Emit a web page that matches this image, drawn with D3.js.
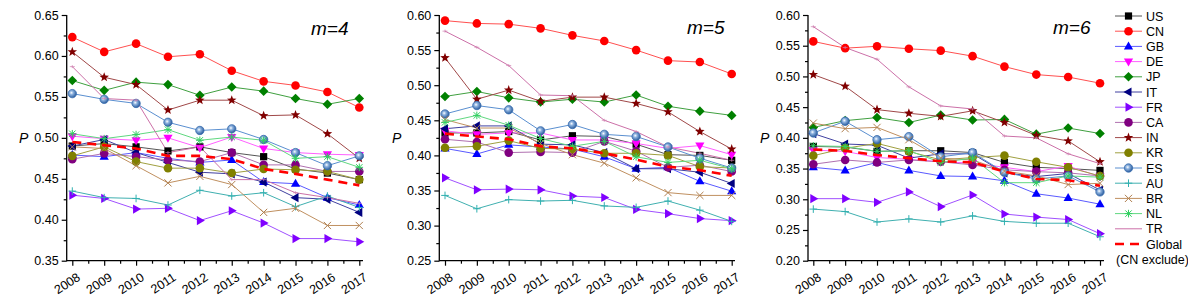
<!DOCTYPE html>
<html>
<head>
<meta charset="utf-8">
<script src="https://cdn.jsdelivr.net/npm/d3@7"></script>
<style>
  body { margin: 0; background: #fff; }
  svg text { font-family: "Liberation Sans", Arial, sans-serif; fill: #000; }
</style>
</head>
<body>
<script>
// ---- data ----
var years = [2008, 2009, 2010, 2011, 2012, 2013, 2014, 2015, 2016, 2017];
var countries = ["US", "CN", "GB", "DE", "JP", "IT", "FR", "CA", "IN", "KR", "ES", "AU", "BR", "NL", "TR"];

// m=4, rows in the order of `countries`
var m4 = [
  [0.490, 0.493, 0.489, 0.484, 0.489, 0.482, 0.477, 0.462, 0.457, 0.449],
  [0.623, 0.605, 0.615, 0.599, 0.602, 0.582, 0.569, 0.564, 0.556, 0.537],
  [0.479, 0.477, 0.482, 0.475, 0.470, 0.473, 0.446, 0.444, 0.427, 0.418],
  [0.502, 0.499, 0.497, 0.500, 0.488, 0.501, 0.487, 0.482, 0.480, 0.479],
  [0.570, 0.558, 0.568, 0.565, 0.552, 0.562, 0.557, 0.548, 0.541, 0.548],
  [0.490, 0.498, 0.482, 0.470, 0.458, 0.456, 0.446, 0.427, 0.425, 0.409],
  [0.430, 0.426, 0.413, 0.414, 0.399, 0.411, 0.396, 0.377, 0.377, 0.373],
  [0.474, 0.481, 0.477, 0.473, 0.471, 0.482, 0.467, 0.467, 0.459, 0.459],
  [0.605, 0.574, 0.565, 0.534, 0.546, 0.546, 0.527, 0.528, 0.505, 0.475],
  [0.478, 0.489, 0.471, 0.463, 0.463, 0.457, 0.462, 0.461, 0.459, 0.449],
  [0.554, 0.547, 0.542, 0.519, 0.509, 0.511, 0.498, 0.482, 0.466, 0.478],
  [0.435, 0.427, 0.426, 0.418, 0.436, 0.429, 0.433, 0.416, 0.429, 0.415],
  [0.489, 0.487, 0.466, 0.445, 0.453, 0.443, 0.409, 0.414, 0.393, 0.393],
  [0.505, 0.499, 0.504, 0.510, 0.497, 0.501, 0.497, 0.475, 0.477, 0.464],
  [0.587, 0.548, 0.546, 0.482, 0.489, 0.449, 0.449, 0.433, 0.427, 0.420]
];
var g4 = [0.495, 0.491, 0.487, 0.478, 0.478, 0.474, 0.462, 0.456, 0.449, 0.442];

// m=5
var m5 = [
  [0.432, 0.432, 0.434, 0.422, 0.428, 0.427, 0.416, 0.401, 0.400, 0.393],
  [0.592, 0.588, 0.587, 0.581, 0.571, 0.563, 0.550, 0.535, 0.533, 0.516],
  [0.410, 0.402, 0.415, 0.412, 0.409, 0.398, 0.381, 0.383, 0.363, 0.349],
  [0.435, 0.430, 0.432, 0.432, 0.422, 0.422, 0.417, 0.410, 0.414, 0.401],
  [0.484, 0.491, 0.482, 0.476, 0.480, 0.476, 0.486, 0.470, 0.463, 0.457],
  [0.438, 0.442, 0.442, 0.416, 0.415, 0.404, 0.381, 0.381, 0.376, 0.360],
  [0.368, 0.351, 0.352, 0.351, 0.342, 0.340, 0.323, 0.317, 0.310, 0.307],
  [0.423, 0.419, 0.404, 0.405, 0.404, 0.420, 0.406, 0.383, 0.386, 0.377],
  [0.539, 0.480, 0.493, 0.477, 0.483, 0.483, 0.474, 0.462, 0.434, 0.409],
  [0.411, 0.413, 0.421, 0.410, 0.409, 0.403, 0.403, 0.400, 0.384, 0.382],
  [0.459, 0.471, 0.465, 0.435, 0.444, 0.430, 0.427, 0.412, 0.396, 0.382],
  [0.343, 0.324, 0.337, 0.335, 0.336, 0.328, 0.326, 0.335, 0.322, 0.306],
  [0.451, 0.439, 0.439, 0.417, 0.401, 0.389, 0.368, 0.347, 0.343, 0.343],
  [0.447, 0.457, 0.443, 0.424, 0.413, 0.420, 0.398, 0.390, 0.393, 0.381],
  [0.577, 0.554, 0.528, 0.486, 0.485, 0.450, 0.434, 0.412, 0.403, 0.393]
];
var g5 = [0.431, 0.427, 0.423, 0.413, 0.410, 0.403, 0.394, 0.384, 0.379, 0.371];

// m=6
var m6 = [
  [0.386, 0.385, 0.378, 0.379, 0.379, 0.376, 0.360, 0.352, 0.350, 0.347],
  [0.557, 0.546, 0.549, 0.545, 0.542, 0.533, 0.516, 0.503, 0.499, 0.489],
  [0.352, 0.347, 0.360, 0.347, 0.338, 0.337, 0.330, 0.309, 0.302, 0.292],
  [0.380, 0.378, 0.368, 0.365, 0.361, 0.359, 0.352, 0.345, 0.354, 0.337],
  [0.417, 0.428, 0.433, 0.425, 0.437, 0.429, 0.430, 0.406, 0.416, 0.407],
  [0.407, 0.390, 0.388, 0.367, 0.374, 0.374, 0.343, 0.337, 0.342, 0.315],
  [0.301, 0.301, 0.295, 0.312, 0.288, 0.307, 0.276, 0.271, 0.267, 0.244],
  [0.357, 0.364, 0.360, 0.364, 0.361, 0.356, 0.348, 0.345, 0.343, 0.338],
  [0.503, 0.484, 0.446, 0.440, 0.435, 0.444, 0.425, 0.404, 0.395, 0.361],
  [0.371, 0.383, 0.391, 0.378, 0.364, 0.368, 0.371, 0.361, 0.352, 0.338],
  [0.408, 0.427, 0.397, 0.402, 0.369, 0.376, 0.344, 0.333, 0.338, 0.312],
  [0.284, 0.280, 0.263, 0.268, 0.263, 0.273, 0.264, 0.261, 0.261, 0.239],
  [0.424, 0.415, 0.417, 0.397, 0.367, 0.364, 0.346, 0.338, 0.324, 0.326],
  [0.387, 0.386, 0.378, 0.379, 0.360, 0.367, 0.327, 0.327, 0.338, 0.336],
  [0.581, 0.547, 0.528, 0.483, 0.452, 0.447, 0.403, 0.400, 0.374, 0.358]
];
var g6 = [0.381, 0.379, 0.372, 0.367, 0.362, 0.360, 0.345, 0.333, 0.331, 0.322];

var yTicks4 = [0.35, 0.40, 0.45, 0.50, 0.55, 0.60, 0.65];
var yTicks5 = [0.25, 0.30, 0.35, 0.40, 0.45, 0.50, 0.55, 0.60];
var yTicks6 = [0.20, 0.25, 0.30, 0.35, 0.40, 0.45, 0.50, 0.55, 0.60];

// ---- styles ----
var style = {
  US: { c: "#000000", line: "#555555", m: "square" },
  CN: { c: "#ff0000", line: "#ff5050", m: "circle" },
  GB: { c: "#0000ff", line: "#5a5aff", m: "triUp" },
  DE: { c: "#ff00ff", line: "#ff60ff", m: "triDown" },
  JP: { c: "#008000", line: "#40a040", m: "diamond" },
  IT: { c: "#000080", line: "#4040a0", m: "triLeft" },
  FR: { c: "#8000ff", line: "#a050ff", m: "triRight" },
  CA: { c: "#800080", line: "#b070b0", m: "circle" },
  IN: { c: "#800000", line: "#a04848", m: "star" },
  KR: { c: "#808000", line: "#a0a040", m: "circle" },
  ES: { c: "#3a6eb0", line: "#5a8fd0", m: "sphere" },
  AU: { c: "#30b0b0", line: "#40b0b0", m: "plus" },
  BR: { c: "#b08050", line: "#c09060", m: "times" },
  NL: { c: "#30d060", line: "#60d880", m: "asterisk" },
  TR: { c: "#d080b0", line: "#cc70a8", m: "tick" }
};

var W = 1188, H = 302, TOP = 15, BOTTOM = 260.7;

var svg = d3.select("body").append("svg")
  .attr("width", W).attr("height", H);

var defs = svg.append("defs");
var grad = defs.append("radialGradient").attr("id", "sph")
  .attr("cx", "40%").attr("cy", "40%").attr("r", "60%");
grad.append("stop").attr("offset", "0%").attr("stop-color", "#ffffff");
grad.append("stop").attr("offset", "35%").attr("stop-color", "#8fb4e0");
grad.append("stop").attr("offset", "100%").attr("stop-color", "#2a5c9e");

function marker(g, key, x, y) {
  var s = style[key], r;
  var p = g.append("g").attr("transform", "translate(" + x + "," + y + ")");
  switch (s.m) {
    case "square":
      p.append("rect").attr("x", -3.6).attr("y", -3.6).attr("width", 7.2).attr("height", 7.2).attr("fill", s.c);
      break;
    case "circle":
      p.append("circle").attr("r", 4.3).attr("fill", s.c);
      break;
    case "sphere":
      p.append("circle").attr("r", 4.2).attr("fill", "url(#sph)").attr("stroke", s.c).attr("stroke-width", 0.8);
      break;
    case "triUp":
      p.append("path").attr("d", "M0,-5L4.6,3L-4.6,3Z").attr("fill", s.c);
      break;
    case "triDown":
      p.append("path").attr("d", "M0,5L4.6,-3L-4.6,-3Z").attr("fill", s.c);
      break;
    case "triLeft":
      p.append("path").attr("d", "M-5,0L3,-4.6L3,4.6Z").attr("fill", s.c);
      break;
    case "triRight":
      p.append("path").attr("d", "M5,0L-3,-4.6L-3,4.6Z").attr("fill", s.c);
      break;
    case "diamond":
      p.append("path").attr("d", "M0,-4.8L4.8,0L0,4.8L-4.8,0Z").attr("fill", s.c);
      break;
    case "star":
      var pts = [];
      for (var i = 0; i < 10; i++) {
        r = i % 2 === 0 ? 5 : 2.1;
        var a = -Math.PI / 2 + i * Math.PI / 5;
        pts.push([r * Math.cos(a), r * Math.sin(a)]);
      }
      p.append("path").attr("d", "M" + pts.join("L") + "Z").attr("fill", s.c);
      break;
    case "plus":
      p.append("path").attr("d", "M-3.8,0H3.8M0,-3.8V3.8").attr("stroke", s.c).attr("stroke-width", 1);
      break;
    case "times":
      p.append("path").attr("d", "M-3.6,-3.6L3.6,3.6M-3.6,3.6L3.6,-3.6").attr("stroke", s.c).attr("stroke-width", 1);
      break;
    case "asterisk":
      p.append("path").attr("d", "M-3.8,0H3.8M0,-3.8V3.8M-3.2,-3.2L3.2,3.2M-3.2,3.2L3.2,-3.2").attr("stroke", s.c).attr("stroke-width", 1);
      break;
    case "tick":
      p.append("path").attr("d", "M-2.5,0H2.5M0,-1.5V1.5").attr("stroke", s.c).attr("stroke-width", 0.7);
      break;
  }
}

var panels = [
  { data: m4, glob: g4, ticks: yTicks4, ax: 66.7, x0: 72.3, x1: 359.3, xEnd: 363, title: "m=4", tx: 311, ty: 35, px: 19 },
  { data: m5, glob: g5, ticks: yTicks5, ax: 439.3, x0: 445, x1: 731.7, xEnd: 735, title: "m=5", tx: 687, ty: 34, px: 392 },
  { data: m6, glob: g6, ticks: yTicks6, ax: 808, x0: 813.3, x1: 1100, xEnd: 1104, title: "m=6", tx: 1053, ty: 34, px: 760 }
];

panels.forEach(function (pn) {
  var g = svg.append("g");
  var lo = pn.ticks[0], hi = pn.ticks[pn.ticks.length - 1];
  var x = d3.scaleLinear().domain([2008, 2017]).range([pn.x0, pn.x1]);
  var y = d3.scaleLinear().domain([lo, hi]).range([BOTTOM, TOP]);

  // minor ticks
  var yMinor = d3.range(lo + 0.025, hi, 0.05);
  g.append("g").attr("transform", "translate(" + pn.ax + ",0)")
    .call(d3.axisLeft(y).tickValues(yMinor).tickSize(3).tickFormat(""))
    .call(function (a) { a.select(".domain").remove(); a.selectAll("line").attr("stroke-width", 1.2); });
  g.append("g").attr("transform", "translate(0," + BOTTOM + ")")
    .call(d3.axisBottom(x).tickValues(years.slice(0, 9).map(function (d) { return d + 0.5; })).tickSize(3).tickFormat(""))
    .call(function (a) { a.select(".domain").remove(); a.selectAll("line").attr("stroke-width", 1.2); });

  // major ticks
  g.append("g").attr("transform", "translate(" + pn.ax + ",0)")
    .call(d3.axisLeft(y).tickValues(pn.ticks).tickSize(5).tickPadding(3).tickFormat(d3.format(".2f")))
    .call(function (a) {
      a.select(".domain").remove();
      a.selectAll("line").attr("stroke-width", 1.2);
      a.selectAll("text").style("font-size", "12.5px").attr("fill", "#000");
    });
  g.append("g").attr("transform", "translate(0," + BOTTOM + ")")
    .call(d3.axisBottom(x).tickValues(years).tickSize(5).tickFormat(d3.format("d")))
    .call(function (a) {
      a.select(".domain").remove();
      a.selectAll("line").attr("stroke-width", 1.2);
      a.selectAll("text")
        .style("font-size", "12.5px").attr("fill", "#000")
        .attr("text-anchor", "end")
        .attr("y", 0).attr("dy", "0.35em")
        .attr("transform", "translate(6,15) rotate(-33)");
    });

  // axis lines
  g.append("line").attr("x1", pn.ax).attr("x2", pn.ax).attr("y1", TOP).attr("y2", BOTTOM + 0.6)
    .attr("stroke", "#000").attr("stroke-width", 1.3);
  g.append("line").attr("x1", pn.ax).attr("x2", pn.xEnd).attr("y1", BOTTOM).attr("y2", BOTTOM)
    .attr("stroke", "#000").attr("stroke-width", 1.3);

  // series
  var line = d3.line().x(function (d, i) { return x(years[i]); }).y(function (d) { return y(d); });
  countries.forEach(function (k, ci) {
    g.append("path").attr("d", line(pn.data[ci]))
      .attr("fill", "none").attr("stroke", style[k].line).attr("stroke-width", 1);
  });
  countries.forEach(function (k, ci) {
    pn.data[ci].forEach(function (v, i) { marker(g, k, x(years[i]), y(v)); });
  });
  g.append("path").attr("d", line(pn.glob))
    .attr("fill", "none").attr("stroke", "#ff0000").attr("stroke-width", 2.6)
    .attr("stroke-dasharray", "9,6");

  // labels
  g.append("text").attr("x", pn.tx).attr("y", pn.ty)
    .style("font-size", "19px").style("font-style", "italic").text(pn.title);
  g.append("text").attr("x", pn.px).attr("y", 143)
    .style("font-size", "14px").style("font-style", "italic").text("P");
});

// legend
var lg = svg.append("g");
var rowY = function (i) { return 16 + i * 15.2; };
countries.forEach(function (k, i) {
  var yy = rowY(i);
  lg.append("line").attr("x1", 1115).attr("x2", 1142).attr("y1", yy).attr("y2", yy)
    .attr("stroke", style[k].line).attr("stroke-width", 1);
  if (k !== "TR") marker(lg, k, 1128.5, yy);
  lg.append("text").attr("x", 1146).attr("y", yy).attr("dy", "0.36em")
    .style("font-size", "12.5px").text(k);
});
var gy = rowY(countries.length);
lg.append("line").attr("x1", 1115).attr("x2", 1142).attr("y1", gy).attr("y2", gy)
  .attr("stroke", "#ff0000").attr("stroke-width", 2.6).attr("stroke-dasharray", "9,6");
lg.append("text").attr("x", 1146).attr("y", gy).attr("dy", "0.36em")
  .style("font-size", "12.5px").text("Global");
lg.append("text").attr("x", 1116).attr("y", gy + 15).attr("dy", "0.36em")
  .style("font-size", "12.5px").text("(CN exclude)");
</script>
</body>
</html>
